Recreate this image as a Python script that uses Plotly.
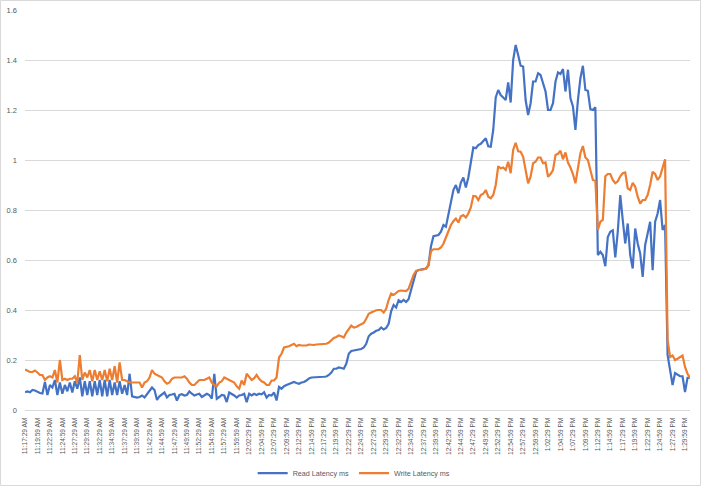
import datetime as dt
import plotly.graph_objects as go

# ---- data (one sample every 30 s from 11:17:29 AM) ----
read_latency = [
    0.071, 0.074, 0.071, 0.080, 0.078, 0.072, 0.068, 0.066, 0.112, 0.060,
    0.100, 0.090, 0.120, 0.060, 0.110, 0.065, 0.100, 0.075, 0.110, 0.070,
    0.115, 0.085, 0.130, 0.055, 0.115, 0.060, 0.115, 0.055, 0.115, 0.060,
    0.120, 0.055, 0.120, 0.055, 0.120, 0.060, 0.110, 0.060, 0.115, 0.065,
    0.100, 0.060, 0.145, 0.055, 0.052, 0.050, 0.052, 0.058, 0.050, 0.062,
    0.078, 0.090, 0.080, 0.040, 0.055, 0.064, 0.070, 0.050, 0.060, 0.062,
    0.065, 0.038, 0.060, 0.063, 0.058, 0.060, 0.074, 0.065, 0.058, 0.062,
    0.065, 0.052, 0.060, 0.065, 0.060, 0.045, 0.145, 0.045, 0.052, 0.060,
    0.058, 0.032, 0.070, 0.065, 0.058, 0.050, 0.058, 0.060, 0.065, 0.031,
    0.065, 0.058, 0.065, 0.060, 0.065, 0.063, 0.071, 0.050, 0.060, 0.058,
    0.070, 0.038, 0.092, 0.085, 0.095, 0.100, 0.105, 0.110, 0.112, 0.108,
    0.105, 0.110, 0.112, 0.118, 0.126, 0.130, 0.130, 0.131, 0.131, 0.132,
    0.133, 0.134, 0.140, 0.150, 0.165, 0.165, 0.170, 0.168, 0.165, 0.185,
    0.225, 0.236, 0.238, 0.237, 0.241, 0.244, 0.250, 0.265, 0.295, 0.305,
    0.310, 0.317, 0.320, 0.330, 0.322, 0.328, 0.345, 0.395, 0.420, 0.410,
    0.439, 0.432, 0.440, 0.432, 0.443, 0.480, 0.519, 0.552, 0.560, 0.562,
    0.563, 0.566, 0.579, 0.655, 0.695, 0.699, 0.700, 0.713, 0.740, 0.733,
    0.786, 0.840, 0.880, 0.900, 0.867, 0.910, 0.930, 0.890, 0.930, 0.990,
    1.050, 1.047, 1.060, 1.065, 1.075, 1.087, 1.055, 1.053, 1.120, 1.250,
    1.280, 1.260, 1.250, 1.240, 1.310, 1.230, 1.400, 1.460, 1.420, 1.377,
    1.374, 1.240, 1.180, 1.227, 1.314, 1.314, 1.347, 1.340, 1.307, 1.274,
    1.200, 1.200, 1.227, 1.314, 1.350, 1.344, 1.364, 1.274, 1.361, 1.247,
    1.214, 1.120, 1.240, 1.327, 1.377, 1.280, 1.277, 1.203, 1.200, 1.211,
    0.620, 0.633, 0.620, 0.575, 0.692, 0.713, 0.719, 0.610, 0.713, 0.860,
    0.760, 0.666, 0.746, 0.620, 0.566, 0.726, 0.666, 0.626, 0.532, 0.660,
    0.706, 0.753, 0.559, 0.753, 0.786, 0.840, 0.720, 0.740, 0.220, 0.160,
    0.100, 0.148, 0.140, 0.135, 0.135, 0.072, 0.129, 0.129,
]

write_latency = [
    0.162, 0.157, 0.152, 0.152, 0.158, 0.150, 0.140, 0.140, 0.120, 0.130,
    0.135, 0.130, 0.160, 0.110, 0.200, 0.120, 0.125, 0.120, 0.125, 0.125,
    0.135, 0.110, 0.220, 0.120, 0.150, 0.130, 0.160, 0.115, 0.160, 0.120,
    0.155, 0.120, 0.160, 0.115, 0.165, 0.120, 0.175, 0.110, 0.190, 0.120,
    0.120, 0.115, 0.110, 0.110, 0.110, 0.110, 0.110, 0.090, 0.110, 0.115,
    0.130, 0.160, 0.145, 0.140, 0.135, 0.130, 0.115, 0.105, 0.110, 0.125,
    0.130, 0.130, 0.130, 0.130, 0.135, 0.125, 0.110, 0.100, 0.100, 0.110,
    0.120, 0.120, 0.120, 0.125, 0.130, 0.110, 0.100, 0.095, 0.110, 0.115,
    0.130, 0.125, 0.120, 0.118, 0.110, 0.095, 0.085, 0.118, 0.100, 0.145,
    0.130, 0.120, 0.127, 0.140, 0.125, 0.115, 0.110, 0.100, 0.100, 0.118,
    0.118, 0.130, 0.210, 0.225, 0.250, 0.252, 0.255, 0.260, 0.265, 0.255,
    0.260, 0.258, 0.258, 0.258, 0.262, 0.260, 0.260, 0.262, 0.262, 0.264,
    0.265, 0.265, 0.270, 0.280, 0.288, 0.292, 0.298, 0.295, 0.290, 0.310,
    0.325, 0.338, 0.330, 0.332, 0.338, 0.343, 0.348, 0.365, 0.385, 0.390,
    0.395, 0.399, 0.400, 0.400, 0.390, 0.405, 0.440, 0.466, 0.460, 0.470,
    0.476, 0.478, 0.477, 0.476, 0.485, 0.510, 0.540, 0.556, 0.560, 0.560,
    0.563, 0.565, 0.579, 0.635, 0.643, 0.643, 0.643, 0.650, 0.665, 0.690,
    0.713, 0.740, 0.755, 0.766, 0.750, 0.775, 0.780, 0.770, 0.786, 0.810,
    0.856, 0.855, 0.840, 0.860, 0.865, 0.880, 0.853, 0.847, 0.860, 0.900,
    0.975, 0.967, 0.970, 0.960, 0.993, 0.947, 1.040, 1.069, 1.035, 1.033,
    1.013, 0.953, 0.907, 0.933, 0.987, 0.993, 1.010, 1.010, 0.987, 0.990,
    0.933, 0.944, 0.960, 1.020, 1.025, 1.037, 1.003, 1.030, 0.990, 0.970,
    0.944, 0.907, 0.970, 1.027, 1.056, 1.010, 1.000, 0.953, 0.920, 0.917,
    0.720, 0.753, 0.760, 0.935, 0.944, 0.944, 0.920, 0.907, 0.915, 0.935,
    0.947, 0.950, 0.887, 0.880, 0.909, 0.893, 0.853, 0.826, 0.840, 0.840,
    0.860, 0.900, 0.953, 0.944, 0.920, 0.935, 0.967, 1.003, 0.280, 0.212,
    0.218, 0.200, 0.205, 0.210, 0.218, 0.172, 0.145, 0.129,
]

tick_labels = [
    "11:17:29 AM", "11:19:59 AM", "11:22:29 AM", "11:24:59 AM", "11:27:29 AM",
    "11:29:59 AM", "11:32:29 AM", "11:34:59 AM", "11:37:29 AM", "11:39:59 AM",
    "11:42:29 AM", "11:44:59 AM", "11:47:29 AM", "11:49:59 AM", "11:52:29 AM",
    "11:54:59 AM", "11:57:29 AM", "11:59:59 AM", "12:02:29 PM", "12:04:59 PM",
    "12:07:29 PM", "12:09:59 PM", "12:12:29 PM", "12:14:59 PM", "12:17:29 PM",
    "12:19:59 PM", "12:22:29 PM", "12:24:59 PM", "12:27:29 PM", "12:29:59 PM",
    "12:32:29 PM", "12:34:59 PM", "12:37:29 PM", "12:39:59 PM", "12:42:29 PM",
    "12:44:59 PM", "12:47:29 PM", "12:49:59 PM", "12:52:29 PM", "12:54:59 PM",
    "12:57:29 PM", "12:59:59 PM", "1:02:29 PM", "1:04:59 PM", "1:07:29 PM",
    "1:09:59 PM", "1:12:29 PM", "1:14:59 PM", "1:17:29 PM", "1:19:59 PM",
    "1:22:29 PM", "1:24:59 PM", "1:27:29 PM", "1:29:59 PM",
]

series_names = ["Read Latency ms", "Write Latency ms"]
series_colors = ["#4472C4", "#ED7D31"]


def fmt(t):
    h = t.hour % 12 or 12
    return f"{h}:{t.minute:02d}:{t.second:02d} {'AM' if t.hour < 12 else 'PM'}"


start = dt.datetime(2020, 1, 1, 11, 17, 29)
times = [fmt(start + dt.timedelta(seconds=30 * i)) for i in range(len(read_latency))]

fig = go.Figure()
for name, vals, col in zip(series_names, [read_latency, write_latency], series_colors):
    fig.add_trace(go.Scatter(x=times, y=vals, mode="lines", name=name,
                             line=dict(color=col, width=2.2)))

W, H = 701, 487
ml, mr, mt, mb = 25, 11, 10, 77
pw, ph = W - ml - mr, H - mt - mb

fig.update_layout(
    width=W, height=H,
    margin=dict(l=ml, r=mr, t=mt, b=mb, pad=0, autoexpand=False),
    paper_bgcolor="white", plot_bgcolor="white",
    font=dict(family="Liberation Sans, Arial, sans-serif", color="#595959", size=7.5),
    showlegend=True,
    legend=dict(orientation="h", x=0.495, xanchor="center", y=-0.158, yanchor="middle",
                font=dict(size=7.2, color="#595959"), bgcolor="rgba(0,0,0,0)",
                itemwidth=30, tracegroupgap=0),
    xaxis=dict(type="category", range=[0, len(read_latency) - 1], automargin=False,
               tickmode="array", tickvals=tick_labels, ticktext=tick_labels,
               tickangle=-90, tickfont=dict(size=6.6, color="#595959"),
               showgrid=False, showline=True, linecolor="#D9D9D9", linewidth=1,
               ticks="", zeroline=False, ticklabelstandoff=4),
    yaxis=dict(range=[0, 1.6], dtick=0.2, tick0=0, showgrid=True, automargin=False,
               gridcolor="#D9D9D9", gridwidth=1, zeroline=False,
               showline=False, ticks="", tickfont=dict(size=7.5, color="#595959"),
               ticklabelstandoff=7),
)

# light chart-area border like the spreadsheet chart frame
fig.add_shape(type="rect", xref="paper", yref="paper",
              x0=(0.5 - ml) / pw, x1=(W - 0.5 - ml) / pw,
              y0=-(H - 1.5 - mt - ph) / ph, y1=(ph + mt - 0.5) / ph,
              line=dict(color="#D9D9D9", width=1), layer="below")

# page without the browser's default body margin so the figure sits at (0, 0)
fig.write_html("out.html",
               config={"displayModeBar": False, "staticPlot": True},
               post_script="document.body.style.margin='0';document.body.style.overflow='hidden';")
